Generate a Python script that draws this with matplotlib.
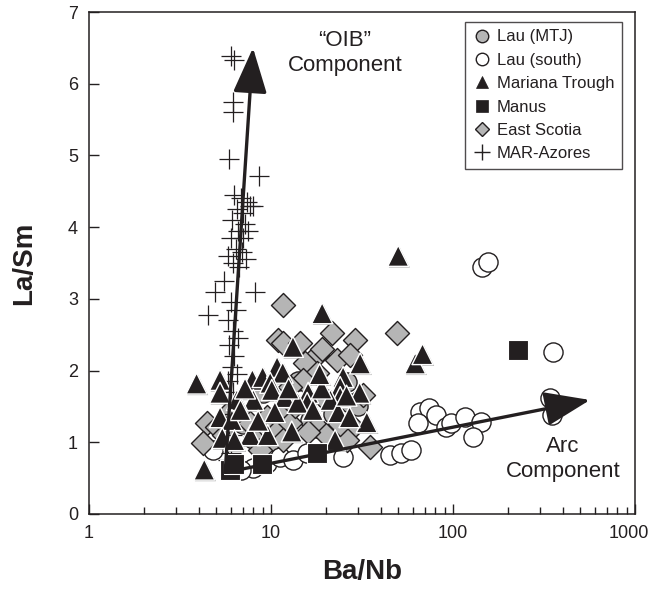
import matplotlib
matplotlib.use("Agg")
import matplotlib.pyplot as plt
import matplotlib.patheffects as pe
import matplotlib.transforms as mtransforms
from matplotlib.patches import FancyArrowPatch
from matplotlib.lines import Line2D
from matplotlib.ticker import LogLocator, NullFormatter

plt.rcParams['font.family'] = ['Liberation Sans', 'DejaVu Sans']

# ---------------- data ----------------
lau_mtj_x = [9.0, 16.4, 26.0, 27.1, 12.0, 20.0, 7.0, 14.0, 30.0, 10.5, 18.0, 25.0, 22.0, 8.0]
lau_mtj_y = [1.69, 1.31, 1.84, 1.55, 1.45, 1.60, 1.25, 1.85, 1.50, 1.00, 1.20, 1.10, 1.40, 1.05]

lau_s_x = [8.0, 9.5, 11.2, 13.2, 15.8, 24.9, 45, 52, 59, 4.8, 6.8,
           355, 340, 350, 66, 74, 64, 81, 92, 98, 116, 143, 128, 144, 155]
lau_s_y = [0.64, 0.71, 0.80, 0.75, 0.85, 0.80, 0.82, 0.85, 0.89, 0.89, 0.61,
           2.26, 1.62, 1.38, 1.42, 1.48, 1.27, 1.38, 1.21, 1.27, 1.35, 1.28, 1.07, 3.45, 3.51]

mar_x = [5.25, 7.9, 9.0, 10.8, 11.6, 9.9, 10.1, 8.0, 6.5, 5.25, 11.9, 16.0, 15.8,
         24.9, 24.0, 24.0, 21.2, 30.7, 14.0, 17.0, 10.5, 23.4, 5.25, 6.1, 33.6,
         7.7, 9.6, 5.4, 6.3, 22.5, 4.3, 3.9, 19.1, 13.2, 30.9, 50, 62, 68,
         6.8, 8.5, 12.5, 19.0, 27.0, 13.0, 7.2, 18.5, 26.0]
mar_y = [1.87, 1.87, 1.91, 2.05, 1.97, 1.83, 1.73, 1.59, 1.59, 1.69, 1.63, 1.69, 1.55,
         1.91, 1.77, 1.63, 1.59, 1.69, 1.55, 1.45, 1.42, 1.42, 1.35, 1.31, 1.28,
         1.10, 1.10, 1.06, 1.03, 1.03, 0.62, 1.82, 2.80, 2.33, 2.10, 3.60, 2.10, 2.23,
         1.45, 1.30, 1.75, 1.75, 1.35, 1.15, 1.75, 1.95, 1.65]

manus_x = [5.95, 6.3, 8.9, 17.9, 228]
manus_y = [0.62, 0.70, 0.70, 0.85, 2.28]

es_x = [11.6, 21.6, 29.0, 49.2, 10.9, 11.6, 14.4, 17.9, 15.4, 17.9, 23.1, 27.1,
        15.0, 12.7, 32.0, 4.45, 5.05, 7.7, 10.3, 12.7, 28.2, 4.24, 11.6, 8.7, 34.8, 26.1,
        5.5, 9.5, 13.5, 20.0, 24.0, 19.0, 16.0, 6.0]
es_y = [2.91, 2.52, 2.43, 2.52, 2.43, 2.38, 2.38, 2.22, 2.10, 1.97, 2.15, 2.22,
        1.87, 1.77, 1.66, 1.27, 1.21, 1.27, 1.21, 1.27, 1.21, 0.99, 1.03, 0.89, 0.93, 1.03,
        1.10, 1.35, 1.50, 1.10, 1.25, 2.30, 1.15, 1.45]

az_x = [6.0, 6.3, 6.2, 6.2, 5.9, 8.6, 6.3, 6.8, 7.4, 8.0, 6.5, 7.0, 7.7, 6.1, 7.2,
        6.6, 7.5, 6.0, 7.0, 6.4, 6.9, 5.8, 7.3, 6.2, 6.7, 4.9, 8.2, 5.5, 4.5, 6.0,
        6.4, 5.8, 6.2, 6.6, 5.9, 6.3, 6.1, 6.5, 5.8, 6.2, 6.0, 6.3, 5.9, 6.1, 5.7,
        6.0, 5.8, 6.2]
az_y = [6.38, 6.33, 5.75, 5.60, 4.95, 4.72, 4.45, 4.40, 4.35, 4.30, 4.25, 4.20, 4.30, 4.10, 4.05,
        3.95, 3.95, 3.85, 3.85, 3.70, 3.65, 3.60, 3.55, 3.50, 3.45, 3.10, 3.10, 3.25, 2.78, 2.95,
        2.85, 2.70, 2.55, 2.45, 2.35, 2.20, 2.05, 1.95, 1.85, 1.70, 1.55, 1.40, 1.25, 1.10, 0.95,
        0.85, 0.75, 0.70]

oib_start = (5.6, 0.58)
oib_end = (7.96, 6.5)
arc_start = (5.6, 0.58)
arc_end = (566, 1.59)

labels = ['Lau (MTJ)', 'Lau (south)', 'Mariana Trough', 'Manus', 'East Scotia', 'MAR-Azores']
xtick_vals = [1, 10, 100, 1000]
xtick_labels = ['1', '10', '100', '1000']

# ---------------- figure ----------------
fig = plt.figure(figsize=(6.51, 5.89), dpi=100)
ax = fig.add_axes([89/651, 1-514/589, (635-89)/651, (514-12)/589])
ax.set_xscale('log')
ax.set_xlim(1, 1000)
ax.set_ylim(0, 7)

dark = '#231f20'
shadow = [pe.SimplePatchShadow(offset=(0.8, -0.8), shadow_rgbFace='#9a9a9a', alpha=1.0), pe.Normal()]

ax.scatter(lau_mtj_x, lau_mtj_y, s=190, marker='o', facecolor='#b5b5b5', edgecolor=dark, linewidth=1.0, zorder=2)
ax.scatter(lau_s_x, lau_s_y, s=190, marker='o', facecolor='white', edgecolor=dark, linewidth=1.0, zorder=2)
ax.scatter(es_x, es_y, s=150, marker='D', facecolor='#b5b5b5', edgecolor=dark, linewidth=1.0, zorder=3)
ax.scatter(az_x, az_y, s=200, marker='+', color=dark, linewidth=0.9, zorder=4)
ax.scatter(mar_x, mar_y, s=230, marker='^', facecolor=dark, edgecolor='white', linewidth=1.0,
           zorder=5, path_effects=shadow)
ax.scatter(manus_x, manus_y, s=210, marker='s', facecolor=dark, edgecolor='white', linewidth=0.8, zorder=6)

for (p0, p1) in [(oib_start, oib_end), (arc_start, arc_end)]:
    arr = FancyArrowPatch(p0, p1, arrowstyle='-|>,head_length=2.0,head_width=0.75',
                          mutation_scale=14, linewidth=2.4, color=dark, zorder=8,
                          shrinkA=0, shrinkB=0)
    ax.add_patch(arr)

ax.text(25.5, 6.43, '\u201cOIB\u201d\nComponent', ha='center', va='center', fontsize=16,
        color=dark, linespacing=1.25)
ax.text(402, 0.77, 'Arc\nComponent', ha='center', va='center', fontsize=16,
        color=dark, linespacing=1.25)

# axes styling
for sp in ax.spines.values():
    sp.set_linewidth(1.1)
    sp.set_color(dark)
ax.set_yticks(range(0, 8))
ax.set_xticks(xtick_vals)
ax.set_xticklabels(xtick_labels)
ax.xaxis.set_minor_locator(LogLocator(base=10, subs=range(2, 10)))
ax.xaxis.set_minor_formatter(NullFormatter())
ax.tick_params(axis='both', which='major', direction='in', length=7, width=1.0, color=dark,
               labelsize=13, labelcolor=dark, top=False, right=False)
ax.tick_params(axis='x', which='minor', direction='in', length=5, width=1.0, color=dark, top=False)
ax.tick_params(axis='x', which='major', pad=8)
ax.tick_params(axis='y', which='major', pad=8)

# shift the last x tick label slightly left so it stays inside the figure
last = ax.get_xticklabels()[-1]
last.set_transform(last.get_transform() + mtransforms.ScaledTranslation(-6/100, 0, fig.dpi_scale_trans))

ax.set_xlabel('Ba/Nb', fontsize=20, fontweight='bold', color=dark, labelpad=12)
ax.set_ylabel('La/Sm', fontsize=20, fontweight='bold', color=dark, labelpad=22)

handles = [
    Line2D([], [], ls='none', marker='o', ms=9, mfc='#b5b5b5', mec=dark, mew=1.0),
    Line2D([], [], ls='none', marker='o', ms=9, mfc='white', mec=dark, mew=1.0),
    Line2D([], [], ls='none', marker='^', ms=9, mfc=dark, mec=dark, mew=0.5),
    Line2D([], [], ls='none', marker='s', ms=9, mfc=dark, mec=dark, mew=0.5),
    Line2D([], [], ls='none', marker='D', ms=7.5, mfc='#b5b5b5', mec=dark, mew=1.0),
    Line2D([], [], ls='none', marker='+', ms=12, color=dark, mew=1.0),
]
leg = ax.legend(handles, labels, loc='upper right', bbox_to_anchor=(622/651, 1-22/589),
                bbox_transform=fig.transFigure, fontsize=12, frameon=True, fancybox=False,
                edgecolor=dark, handletextpad=0.3, handlelength=1.2, borderpad=0.45,
                labelspacing=0.5, borderaxespad=0)
leg.get_frame().set_linewidth(1.0)
for t in leg.get_texts():
    t.set_color(dark)

fig.savefig('out.png', dpi=100)
